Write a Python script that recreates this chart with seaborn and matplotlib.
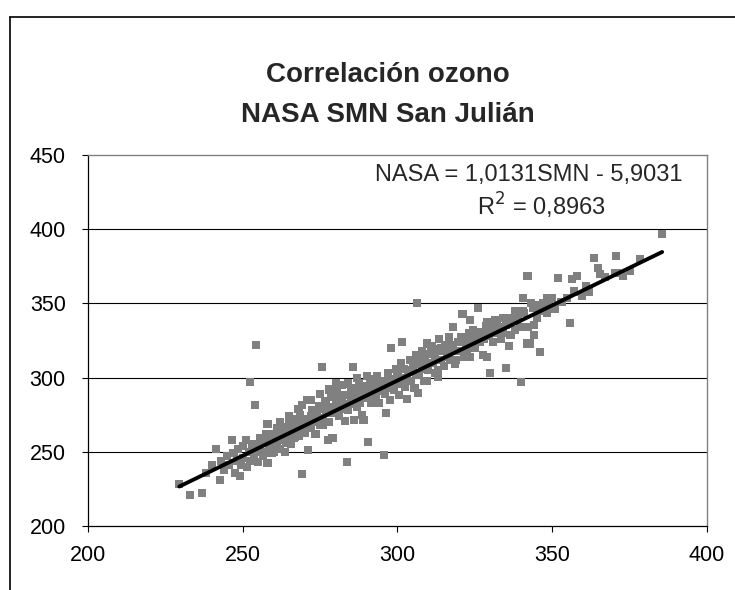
import matplotlib
matplotlib.use('Agg')
import matplotlib.pyplot as plt
from matplotlib.lines import Line2D
import numpy as np
import pandas as pd
import seaborn as sns

# SMN (x) vs NASA (y) total ozone
smn = [229.5, 233, 236.8, 238, 240, 241.4, 242.6, 243, 244, 245, 245.5, 246.5, 247, 247.5, 248, 248.5, 249, 249.5, 250, 250,
       251, 251.5, 252, 252.3, 252.5, 253, 253.5, 254, 254.3, 254.5, 255, 255.5, 256, 256.5, 257, 257.5, 258, 258, 258.5, 259, 259.5, 260, 260.5, 261, 261.5, 262,
       262.5, 263, 263.6, 264, 264.5, 265, 265.5, 266, 266.5, 267, 267.5, 268, 268.5, 269, 269, 269.5, 270, 270.8, 271, 271.5, 272, 272.5, 273, 273.5, 274, 274.5, 275, 275.6,
       276, 276.5, 277, 277.5, 278, 278.5, 279, 279.5, 280, 280.5, 281, 281.5, 282, 282.5, 283, 283.7, 284, 284.5, 285, 285.6, 286, 286.5, 287, 287.5, 288, 288.5, 289, 289.5, 290, 290.5,
       291, 291.5, 292, 292.5, 293, 293.5, 294, 294.5, 295, 295.6, 296, 296.3, 296.8, 297, 297.5, 298, 298.5, 299, 299.5, 300, 300.5, 301, 301.5, 302, 302.5, 303, 303.5, 304, 304.5, 305,
       305.5, 306, 306.3, 306.6, 307, 307.5, 308, 308.5, 309, 309.5, 309.5, 310, 310.5, 311, 311.5, 312, 312.5, 313, 313, 313.5, 314, 314.5, 315, 315.5, 316, 316.5, 317, 317.5, 318, 318.5, 319, 319.5, 320,
       320.5, 321, 321.5, 322, 322.5, 323, 323.4, 323.4, 324, 324.5, 325, 325.5, 326, 326.5, 327, 327.6, 328, 328.5, 329, 329, 329.5, 330, 330.5, 331, 331.5, 332, 333, 333.5, 334, 335, 335,
       336, 336.5, 337, 338, 338.5, 339, 339.5, 340, 340.5, 340.5, 341, 342, 342, 342, 342.8, 343, 343.8, 344, 344.4, 344, 345, 346, 346.5, 347, 348.3, 348.3, 349, 350,
       351, 351.9, 353, 354.8, 355.7, 356.4, 357, 358, 359.6, 361, 362, 363.5, 364.8, 365.4, 367, 370.3, 370.6, 371, 373, 375, 378.3, 385.5,
       255, 256, 257, 258, 259, 260, 261, 262, 263, 264, 265, 266, 267, 268, 269, 270, 271, 272, 273, 274, 275, 276, 277, 278, 279,
       280, 281, 282, 283, 284, 285, 286, 287, 288, 289, 290, 291, 292, 293, 294, 295, 296, 297, 298, 299, 300, 301, 302, 303, 304,
       305, 306, 307, 308, 309, 310, 312, 314, 316, 318, 320, 322, 324, 326, 328, 330, 332, 334, 336, 338,
       272, 275, 278, 280, 265, 268, 262, 284, 287, 290]
nasa = [228, 221, 222, 236, 241, 252, 231, 244, 238, 247, 241, 258, 249, 236, 244, 252, 233.7, 241, 246, 254,
        258, 240, 250, 297, 244, 255, 248, 281.5, 322, 252, 243, 259, 250, 247, 256, 262, 242.5, 269, 253, 258, 249, 262, 255, 266, 259, 252,
        263, 258, 250, 267, 261, 270, 255, 264, 259, 272, 266, 261, 275, 235, 281.5, 268, 263, 285, 251, 272, 266, 278, 270, 262, 275, 281, 268, 307,
        273, 284, 278, 258, 270, 287, 259, 276, 281, 290, 274, 285, 295, 279, 271, 243, 288, 282, 293, 307, 271.4, 286, 280, 296, 290, 275, 271.4, 293, 286, 256.6,
        299, 283, 290, 296, 287, 301, 283, 292, 298, 248, 289, 276, 303, 294, 285, 320, 299, 292, 306, 296, 288, 310, 324, 300, 294, 285.6, 305, 312, 298, 307,
        293, 315, 350, 289.6, 302, 309, 318, 298, 311, 298, 323, 305, 316, 321, 310, 303, 319, 305, 300.4, 326, 312, 318, 308, 322, 314, 327, 312, 319, 334, 309, 312, 324, 318,
        327, 343, 314, 321, 316.6, 330, 339, 314, 326, 332, 320, 328, 347, 324, 331, 315, 326, 335, 337.5, 314, 328, 303, 332, 324, 339, 330, 334, 326, 340, 335.5, 306.5,
        321, 329, 338, 332, 343, 340, 334, 297, 353.6, 345, 343.5, 368.5, 334, 323, 323, 350, 347, 328.7, 349, 335.5, 340, 317, 345, 350, 353.6, 343.5, 348, 353.6,
        346, 367, 351, 353.6, 336.8, 366.4, 358, 368.5, 355, 362, 358, 380.6, 374, 370, 368, 370.5, 382, 370.5, 368.5, 372, 380, 396.8,
        254, 258, 249, 261, 255, 250, 257, 268, 264, 256, 262, 269, 260, 268, 272, 270, 266, 274, 276, 270, 279, 268, 283, 276, 280,
        286, 279, 284, 288, 278, 285, 291, 284, 283, 288, 294, 290, 285, 294, 298, 291, 297, 301, 293, 298, 303, 298, 306, 300, 304,
        311, 303, 313, 306, 314, 310, 314, 320, 318, 322, 324, 326, 322, 330, 331, 336, 336, 330, 340, 345,
        285, 289, 292, 296, 274, 279, 270, 296, 300, 301]

slope = 1.0131
intercept = -5.9031
r2 = 0.8963

x_ticks = [200, 250, 300, 350, 400]
y_ticks = [200, 250, 300, 350, 400, 450]

df = pd.DataFrame({'SMN': smn, 'NASA': nasa})

sns.set_style('white')
plt.rcParams['font.family'] = ['Liberation Sans', 'DejaVu Sans']

fig = plt.figure(figsize=(7.35, 5.9), dpi=100)
ax = fig.add_axes([88 / 735, 1 - 526 / 590, 619 / 735, 371 / 590])

# horizontal gridlines like Excel
for yv in y_ticks[1:-1]:
    ax.axhline(yv, color='black', linewidth=0.8, zorder=0)

sns.scatterplot(data=df, x='SMN', y='NASA', marker='s', s=34, color='#808080',
                edgecolor='none', linewidth=0, ax=ax, zorder=2)

# trend line
xl = np.array([min(smn), max(smn)])
ax.plot(xl, slope * xl + intercept, color='black', linewidth=2.8, zorder=3)

ax.set_xlim(x_ticks[0], x_ticks[-1])
ax.set_ylim(y_ticks[0], y_ticks[-1])
ax.set_xticks(x_ticks)
ax.set_yticks(y_ticks)
ax.set_xlabel('')
ax.set_ylabel('')
ax.tick_params(axis='both', direction='out', length=4, width=0.8, color='black',
               labelsize=15.5, labelcolor='black', bottom=True, left=True)
ax.tick_params(axis='x', pad=10)
ax.tick_params(axis='y', pad=12)

for side in ['left', 'bottom']:
    ax.spines[side].set_color('black')
    ax.spines[side].set_linewidth(0.9)
for side in ['top', 'right']:
    ax.spines[side].set_color('#808080')
    ax.spines[side].set_linewidth(1.0)

eq = 'NASA = {}SMN - {}'.format(str(slope).replace('.', ','), str(-intercept).replace('.', ','))
ax.text(0.712, 0.946, eq, transform=ax.transAxes, ha='center', va='center', fontsize=17)
ax.text(0.732, 0.862, 'R$^2$ = ' + str(r2).replace('.', ','), transform=ax.transAxes,
        ha='center', va='center', fontsize=17)

fig.text(0.528, 1 - 75 / 590, 'Correlación ozono', ha='center', va='center',
         fontsize=20, fontweight='bold')
fig.text(0.528, 1 - 115 / 590, 'NASA SMN San Julián', ha='center', va='center',
         fontsize=20, fontweight='bold')

# chart area border (cropped at right and bottom)
fig.add_artist(Line2D([10 / 735, 10 / 735], [0, 1 - 17 / 590], color='black',
                      linewidth=1.2, transform=fig.transFigure))
fig.add_artist(Line2D([10 / 735, 1], [1 - 17 / 590, 1 - 17 / 590], color='black',
                      linewidth=1.2, transform=fig.transFigure))

fig.savefig('out.png', dpi=100)
